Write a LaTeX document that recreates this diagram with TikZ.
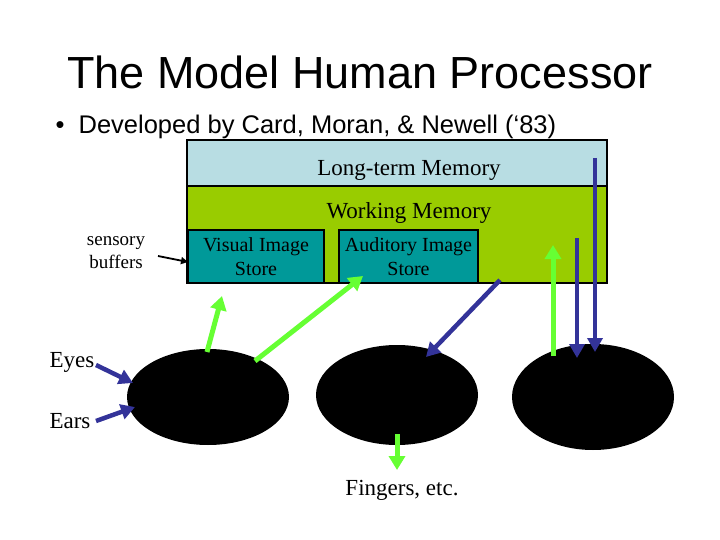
\documentclass[tikz,border=0pt]{standalone}
\usepackage{fontspec}
\setmainfont{Liberation Serif}
\newfontfamily\ttl{Liberation Sans}
\usetikzlibrary{arrows.meta,shapes.geometric}
\definecolor{ltm}{HTML}{B8DDE3}
\definecolor{wm}{HTML}{99CC00}
\definecolor{st}{HTML}{009999}
\definecolor{ga}{HTML}{66FF33}
\definecolor{ba}{HTML}{333399}
\tikzset{
 box/.style={draw=black,line width=1.5pt,inner sep=0},
 lbl/.style={font=\fontsize{23}{26}\selectfont,align=center},
 garr/.style={ga,line width=5pt,-{Triangle[length=14pt,width=16pt]}},
 barr/.style={ba,line width=4.5pt,-{Triangle[length=14pt,width=15pt]}},
 blob/.style={fill=black,ellipse}
}
\begin{document}
\begin{tikzpicture}[x=1pt,y=-1pt]
\useasboundingbox (0,0) rectangle (720,540);
\node[font=\ttl\fontsize{45}{50}\selectfont] (title) at (360,72) {The Model Human Processor};
\node[font=\ttl\fontsize{25.5}{30}\selectfont,anchor=west] (bullet) at (52,127) {\textbullet\ \ Developed by Card, Moran, \& Newell (\textquoteleft83)};
\node[box,fill=ltm,minimum width=420pt,minimum height=46pt] (ltm) at (397,163) {};
\node[lbl] (ltmt) at (409,170) {Long-term Memory};
\node[box,fill=wm,minimum width=420pt,minimum height=97pt] (wm) at (397,234.5) {};
\node[lbl] (wmt) at (409,213) {Working Memory};
\node[box,fill=st,minimum width=136pt,minimum height=53pt,font=\fontsize{20}{24}\selectfont,align=center] (vis) at (256,256.5) {Visual Image\\Store};
\node[box,fill=st,minimum width=139pt,minimum height=53pt,font=\fontsize{20}{24}\selectfont,align=center] (aud) at (408.5,256.5) {Auditory Image\\Store};
\node[font=\fontsize{19}{23}\selectfont,align=center] (sb) at (116,253) {sensory\\buffers};
\coordinate (sbe) at (188,262);
\draw[black,line width=1.8pt,-{Triangle[length=7pt,width=7pt]}] (158,256) -- (sbe);
\node[blob,minimum width=162pt,minimum height=96pt] (p1) at (208,397) {};
\node[blob,minimum width=162pt,minimum height=100pt] (p2) at (397,395) {};
\node[blob,minimum width=162pt,minimum height=106pt] (p3) at (593,397) {};
\node[lbl] (eyes) at (72,362) {Eyes};
\node[lbl] (ears) at (70,421) {Ears};
\node[lbl] (fing) at (402,490) {Fingers, etc.};
\coordinate (e0) at (96,365); \coordinate (e1) at (133,383);
\coordinate (r0) at (96,421); \coordinate (r1) at (135,407);
\draw[barr] (e0) -- (e1);
\draw[barr] (r0) -- (r1);
\coordinate (g1s) at (207,352); \coordinate (g1e) at (222,296);
\coordinate (g2s) at (255,361); \coordinate (g2e) at (363,276);
\coordinate (g3s) at (553,356); \coordinate (g3e) at (553,245);
\coordinate (g4s) at (397,434); \coordinate (g4e) at (397,470);
\draw[garr] (g1s) -- (g1e);
\draw[garr] (g2s) -- (g2e);
\draw[garr] (g3s) -- (g3e);
\draw[garr] (g4s) -- (g4e);
\coordinate (b1s) at (500,280); \coordinate (b1e) at (426,357);
\coordinate (b2s) at (577,238); \coordinate (b2e) at (577,358);
\coordinate (b3s) at (595,158); \coordinate (b3e) at (595,352);
\draw[barr] (b1s) -- (b1e);
\draw[barr] (b2s) -- (b2e);
\draw[barr] (b3s) -- (b3e);
\end{tikzpicture}
\end{document}
